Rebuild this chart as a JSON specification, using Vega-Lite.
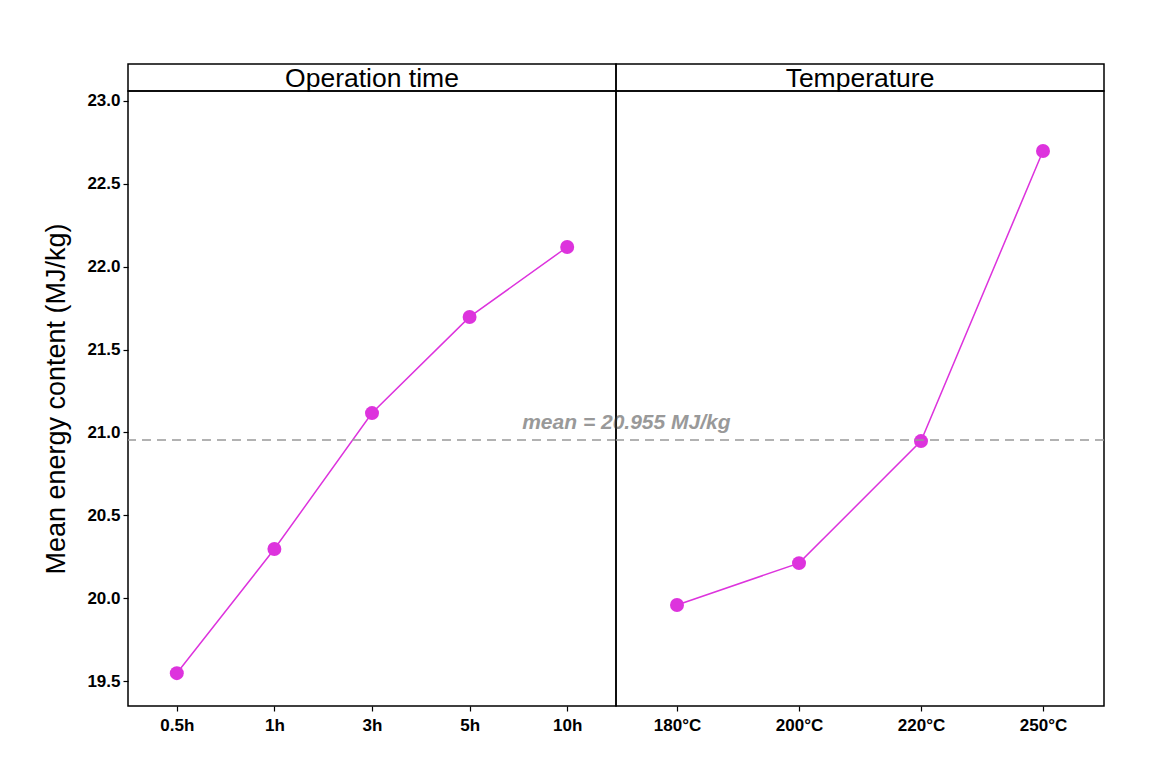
{
  "$schema": "https://vega.github.io/schema/vega-lite/v6.json",
  "background": "white",
  "padding": {"left": 42, "top": 63, "right": 49, "bottom": 20},
  "datasets": {
    "time": [
      {"level": "0.5h", "energy": 19.548},
      {"level": "1h", "energy": 20.297},
      {"level": "3h", "energy": 21.117},
      {"level": "5h", "energy": 21.697},
      {"level": "10h", "energy": 22.119}
    ],
    "temp": [
      {"level": "180°C", "energy": 19.959},
      {"level": "200°C", "energy": 20.212},
      {"level": "220°C", "energy": 20.948},
      {"level": "250°C", "energy": 22.698}
    ],
    "mean": [{"mean": 20.955, "label": "mean = 20.955 MJ/kg"}],
    "h1": [{"factor": "Operation time"}],
    "h2": [{"factor": "Temperature"}]
  },
  "config": {
    "view": {"stroke": "black", "strokeWidth": 1.5},
    "font": "Liberation Sans",
    "axis": {
      "grid": false,
      "domain": false,
      "tickColor": "black",
      "tickSize": 5,
      "tickWidth": 1.2,
      "labelColor": "black",
      "labelFont": "Liberation Sans",
      "labelFontSize": 17,
      "labelFontWeight": "bold",
      "titleColor": "black",
      "titleFont": "Liberation Sans",
      "titleFontWeight": "normal"
    }
  },
  "columns": 2,
  "bounds": "flush",
  "spacing": 0,
  "resolve": {"scale": {"x": "independent", "y": "independent"}},
  "concat": [
    {
      "width": 488,
      "height": 27,
      "view": {"stroke": "black", "strokeWidth": 1.5},
      "data": {"name": "h1"},
      "mark": {"type": "text", "fontSize": 26.5, "color": "black", "font": "Liberation Sans", "dy": 1},
      "encoding": {"text": {"field": "factor"}}
    },
    {
      "width": 488,
      "height": 27,
      "view": {"stroke": "black", "strokeWidth": 1.5},
      "data": {"name": "h2"},
      "mark": {"type": "text", "fontSize": 26.5, "color": "black", "font": "Liberation Sans", "dy": 1},
      "encoding": {"text": {"field": "factor"}}
    },
    {
      "width": 488,
      "height": 615,
      "layer": [
        {
          "data": {"name": "time"},
          "mark": {"type": "line", "color": "#DD33DD", "strokeWidth": 1.5},
          "encoding": {
            "x": {"field": "level", "type": "ordinal", "sort": ["0.5h", "1h", "3h", "5h", "10h"], "scale": {"type": "point", "padding": 0.5}, "axis": {"title": null, "labelAngle": 0, "labelPadding": 6}},
            "y": {"field": "energy", "type": "quantitative", "scale": {"domain": [19.35, 23.06], "nice": false, "zero": false}, "axis": {"title": "Mean energy content (MJ/kg)", "titleFontSize": 27, "titlePadding": 16, "values": [19.5, 20, 20.5, 21, 21.5, 22, 22.5, 23], "format": ".1f", "labelPadding": 3}}
          }
        },
        {
          "data": {"name": "time"},
          "mark": {"type": "point", "filled": true, "opacity": 1, "color": "#DD33DD", "size": 195},
          "encoding": {
            "x": {"field": "level", "type": "ordinal", "sort": ["0.5h", "1h", "3h", "5h", "10h"]},
            "y": {"field": "energy", "type": "quantitative"}
          }
        },
        {
          "data": {"name": "mean"},
          "mark": {"type": "rule", "color": "#999999", "strokeWidth": 1.5, "strokeDash": [9, 6]},
          "encoding": {"y": {"field": "mean", "type": "quantitative"}}
        },
        {
          "data": {"name": "mean"},
          "mark": {"type": "text", "align": "left", "baseline": "middle", "dx": -45, "dy": -17, "fontSize": 21, "fontStyle": "italic", "fontWeight": "bold", "color": "#999999", "font": "Liberation Sans"},
          "encoding": {
            "x": {"datum": "10h"},
            "y": {"field": "mean", "type": "quantitative"},
            "text": {"field": "label"}
          }
        }
      ]
    },
    {
      "width": 488,
      "height": 615,
      "layer": [
        {
          "data": {"name": "temp"},
          "mark": {"type": "line", "color": "#DD33DD", "strokeWidth": 1.5},
          "encoding": {
            "x": {"field": "level", "type": "ordinal", "sort": ["180°C", "200°C", "220°C", "250°C"], "scale": {"type": "point", "padding": 0.5}, "axis": {"title": null, "labelAngle": 0, "labelPadding": 6}},
            "y": {"field": "energy", "type": "quantitative", "scale": {"domain": [19.35, 23.06], "nice": false, "zero": false}, "axis": null}
          }
        },
        {
          "data": {"name": "temp"},
          "mark": {"type": "point", "filled": true, "opacity": 1, "color": "#DD33DD", "size": 195},
          "encoding": {
            "x": {"field": "level", "type": "ordinal", "sort": ["180°C", "200°C", "220°C", "250°C"]},
            "y": {"field": "energy", "type": "quantitative"}
          }
        },
        {
          "data": {"name": "mean"},
          "mark": {"type": "rule", "color": "#999999", "strokeWidth": 1.5, "strokeDash": [9, 6]},
          "encoding": {"y": {"field": "mean", "type": "quantitative"}}
        }
      ]
    }
  ]
}
